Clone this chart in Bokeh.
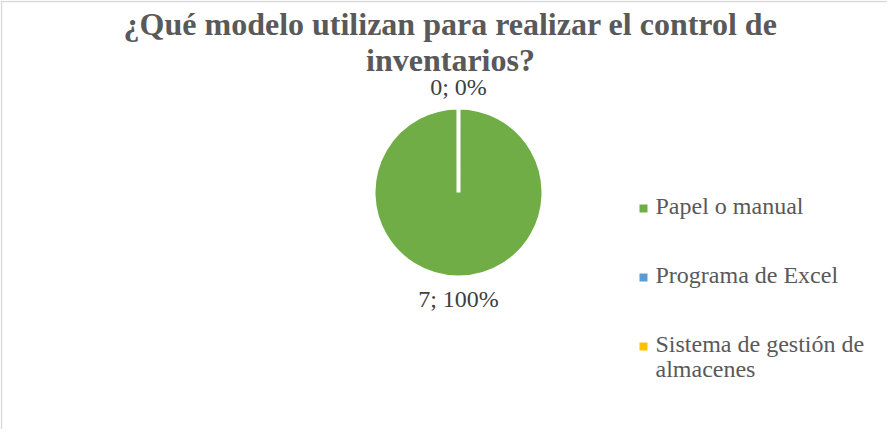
import math
from bokeh.plotting import figure
from bokeh.models import Range1d, ColumnDataSource, Span
from bokeh.core.properties import value
from bokeh.embed import file_html
from bokeh.resources import INLINE

# ---- data ----
categories = ["Papel o manual", "Programa de Excel", "Sistema de gestión de almacenes"]
counts = [7, 0, 0]
colors = ["#70AD47", "#5B9BD5", "#FFC000"]
title_lines = ["¿Qué modelo utilizan para realizar el control de", "inventarios?"]
legend_lines = [["Papel o manual"], ["Programa de Excel"], ["Sistema de gestión de", "almacenes"]]

FONT = value("Liberation Serif")
W, H = 887, 429


def py(page_y):
    return H - (page_y - 8)


def px(page_x):
    return page_x - 8


p = figure(width=W, height=H, x_range=Range1d(0, W), y_range=Range1d(0, H),
           output_backend="svg", toolbar_location=None,
           x_axis_type=None, y_axis_type=None, min_border=0)
p.grid.visible = False
p.outline_line_color = None
p.background_fill_color = "white"
p.border_fill_color = "white"

# chart-area border (only left and top edges are visible in the reference)
p.add_layout(Span(location=1, dimension="height", line_color="#d9d9d9", line_width=1.5))
p.add_layout(Span(location=H - 1, dimension="width", line_color="#d9d9d9", line_width=1.5))

# ---- title ----
p.text(x=[px(458)] * 2, y=[py(31), py(67)], text=title_lines,
       text_font=FONT, text_font_size="32px", text_font_style="bold",
       text_color="#595959", text_align="center", text_baseline="middle")

# ---- pie ----
cx, cy, r_vis = px(466), py(200), 83
total = sum(counts)
starts, ends, wcols, wnames = [], [], [], []
cum = 0.0
mids = []
for c, col, name in zip(counts, colors, categories):
    a0 = math.pi / 2 - 2 * math.pi * cum / total
    cum += c
    a1 = math.pi / 2 - 2 * math.pi * cum / total
    mids.append((a0 + a1) / 2)
    if c > 0:
        if a0 - a1 >= 2 * math.pi - 1e-9:
            a1 = a0 - 2 * math.pi + 1e-3
        starts.append(a0)
        ends.append(a1)
        wcols.append(col)
        wnames.append(name)

src = ColumnDataSource(dict(start=starts, end=ends, color=wcols, name=wnames))
p.wedge(x=cx, y=cy, radius=r_vis + 2, start_angle="start", end_angle="end",
        direction="clock", fill_color="color", line_color="white", line_width=4,
        source=src)

# ---- data labels ----
lx, ly, lt, seen = [], [], [], set()
for c, a in zip(counts, mids):
    d = r_vis + 23
    x = cx + d * math.cos(a)
    y = cy + d * math.sin(a)
    key = (round(x), round(y))
    if key in seen:
        continue
    seen.add(key)
    lx.append(x)
    ly.append(y)
    lt.append(f"{c}; {round(100 * c / total)}%")
p.text(x=lx, y=ly, text=lt, text_font=FONT, text_font_size="24px",
       text_color="#404040", text_align="center", text_baseline="middle")

# ---- legend ----
mx, my0, row = px(651), 216, 69
mk_x, mk_y, tx, ty, tt = [], [], [], [], []
for i, lines in enumerate(legend_lines):
    y_page = my0 + i * row
    mk_x.append(mx)
    mk_y.append(py(y_page))
    for j, line in enumerate(lines):
        tx.append(px(663))
        ty.append(py(y_page - 3 + 25 * j))
        tt.append(line)
p.scatter(x=mk_x, y=mk_y, marker="square", size=8, fill_color=colors, line_color=None)
p.text(x=tx, y=ty, text=tt, text_font=FONT, text_font_size="24px",
       text_color="#595959", text_align="left", text_baseline="middle")

open("out.html", "w").write(file_html(p, INLINE))
